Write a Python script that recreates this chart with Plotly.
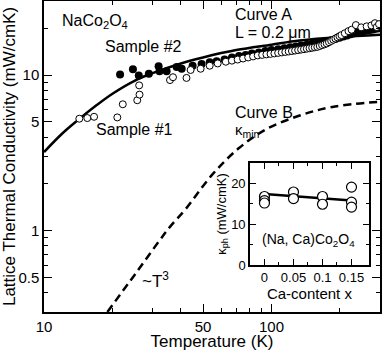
import plotly.graph_objects as go

# Sample #2 (filled circles)
s2_T = [21.6, 24.6, 26.1, 28.9, 31.9, 32.2, 34.6, 38.3, 40.3, 45, 49.3, 53.5, 57.4, 62.2,
        67, 72, 77, 82, 88, 94, 100, 107, 114, 121, 128, 135, 143, 151, 159, 167, 175,
        183, 191, 199, 207, 215, 223, 231, 239, 247, 255, 263, 271, 280, 289, 297]
s2_k = [10.1, 10.9, 9.95, 10.2, 11.4, 10.6, 10.6, 11.3, 11.0, 11.5, 11.8, 12.1, 12.3, 12.6,
        13.0, 13.3, 13.5, 13.8, 14.0, 14.3, 14.5, 14.7, 14.9, 15.1, 15.3, 15.5, 15.7, 15.9,
        16.1, 16.3, 16.5, 16.8, 17.1, 17.4, 17.7, 18.0, 18.3, 18.6, 18.8, 19.0, 19.2, 19.4,
        19.5, 19.7, 19.9, 20.0]

# Sample #1 (open circles)
s1_T = [14.3, 15.5, 16.6, 21, 22.2, 25.7, 26.3, 26.2, 35.8, 36.9, 42.3, 44.1, 48.8, 53.5,
        58, 63, 67, 71, 75, 79, 83, 87, 91, 95, 99, 103, 107, 111, 115, 119, 123, 127,
        131, 135, 139, 143, 147, 151, 155, 159, 163, 167, 171, 175, 179, 183, 187, 191,
        195, 199, 203, 210, 218, 225, 235, 248, 262, 275, 285, 290, 297]
s1_k = [5.25, 5.3, 5.4, 5.35, 6.5, 6.9, 7.5, 8.6, 9.3, 9.7, 9.6, 10.8, 11.0, 11.5,
        11.9, 12.2, 12.4, 12.6, 12.8, 13.0, 13.2, 13.4, 13.5, 13.6, 13.7, 13.8, 13.9, 14.0,
        14.1, 14.2, 14.3, 14.4, 14.5, 14.6, 14.7, 14.8, 14.9, 15.0, 15.1, 15.2, 15.4, 15.6,
        15.8, 16.0, 16.3, 16.6, 16.9, 17.2, 17.5, 17.8, 18.1, 18.6, 19.2, 19.6, 21.0, 20.3,
        20.6, 20.9, 21.6, 20.4, 21.3]

# Curve A (L = 0.2 um) and curve B (kappa_min)
cA_T = [10, 12, 14, 17, 20, 25, 30, 40, 50, 70, 100, 133, 200, 300]
cA_k = [3.2, 4.2, 5.1, 6.4, 7.6, 9.2, 10.3, 11.9, 13.0, 14.5, 15.7, 16.7, 17.6, 18.2]
cB_T = [19, 25.5, 32.3, 36, 42, 55, 72, 95, 133, 185, 300]
cB_k = [0.3, 0.54, 0.87, 1.07, 1.38, 2.3, 3.4, 4.5, 5.5, 6.25, 6.75]

# inset: kappa_ph vs Ca content
ca_x = [0, 0, 0, 0.05, 0.05, 0.1, 0.1, 0.15, 0.15, 0.15]
ca_k = [16.8, 15.8, 15.2, 17.9, 16.3, 16.8, 14.9, 19.1, 15.4, 14.2]
fit_x = [0, 0.15]
fit_k = [17.4, 15.8]

FONT = "Liberation Sans, Arial, sans-serif"

fig = go.Figure()
fig.add_trace(go.Scatter(x=cA_T, y=cA_k, mode="lines", line=dict(color="black", width=2.5, shape="spline")))
fig.add_trace(go.Scatter(x=cB_T, y=cB_k, mode="lines",
                         line=dict(color="black", width=2.5, dash="8px,5px", shape="spline")))
fig.add_trace(go.Scatter(x=s2_T, y=s2_k, mode="markers",
                         marker=dict(symbol="circle", size=8, color="black")))
fig.add_trace(go.Scatter(x=s1_T, y=s1_k, mode="markers",
                         marker=dict(symbol="circle", size=7, color="white",
                                     line=dict(color="black", width=1))))

# inset
fig.add_trace(go.Scatter(x=fit_x, y=fit_k, mode="lines", xaxis="x2", yaxis="y2",
                         line=dict(color="black", width=2.5)))
fig.add_trace(go.Scatter(x=ca_x, y=ca_k, mode="markers", xaxis="x2", yaxis="y2",
                         marker=dict(symbol="circle", size=10, color="white",
                                     line=dict(color="black", width=1.2))))

ax_common = dict(showline=True, linecolor="black", linewidth=1.5, mirror="allticks",
                 ticks="inside", tickcolor="black", tickwidth=1.2, showgrid=False,
                 zeroline=False, automargin=False)

fig.update_layout(
    width=382, height=351,
    margin=dict(l=44, r=2, t=1, b=39),
    paper_bgcolor="white", plot_bgcolor="white",
    showlegend=False,
    font=dict(family=FONT, size=15, color="black"),
    xaxis=dict(ax_common, type="log", range=[1, 2.477], ticklen=8,
               tickvals=[10, 50, 100], ticktext=["10", "50", "100"],
               minor=dict(ticks="inside", ticklen=4, tickcolor="black", tickwidth=1.2,
                          tickvals=[20, 30, 40, 60, 70, 80, 90, 200, 300]),
               title=dict(text="Temperature (K)", font=dict(size=17), standoff=4),
               tickfont=dict(size=15)),
    yaxis=dict(ax_common, type="log", range=[-0.523, 1.477], ticklen=8,
               tickvals=[0.5, 1, 5, 10], ticktext=["0.5", "1", "5", "10"],
               minor=dict(ticks="inside", ticklen=4, tickcolor="black", tickwidth=1.2,
                          tickvals=[0.3, 0.4, 0.6, 0.7, 0.8, 0.9, 2, 3, 4, 6, 7, 8, 9, 20, 30]),
               title=dict(text="Lattice Thermal Conductivity (mW/cmK)", font=dict(size=17),
                          standoff=2),
               tickfont=dict(size=15)),
    xaxis2=dict(ax_common, domain=[0.613, 0.967], anchor="y2", range=[-0.025, 0.18],
                ticklen=6, tickvals=[0, 0.05, 0.1, 0.15], ticktext=["0", "0.05", "0.1", "0.15"],
                minor=dict(ticks="inside", ticklen=3, tickcolor="black",
                           tickvals=[0.025, 0.075, 0.125]),
                tickfont=dict(size=13),
                title=dict(text="Ca-content x", font=dict(size=15), standoff=2)),
    yaxis2=dict(ax_common, domain=[0.151, 0.479], anchor="x2", range=[0, 25],
                ticklen=6, tickvals=[0, 10, 20], ticktext=["0", "10", "20"],
                minor=dict(ticks="inside", ticklen=3, tickcolor="black", tickvals=[5, 15]),
                tickfont=dict(size=13),
                title=dict(text="κ<sub>ph</sub> (mW/cmK)", font=dict(size=13), standoff=2)),
)

ann = [
    dict(x=60, y=21, text="NaCo<sub>2</sub>O<sub>4</sub>", size=16),
    dict(x=103, y=47, text="Sample #2", size=16),
    dict(x=94, y=129, text="Sample #1", size=16),
    dict(x=233, y=15, text="Curve A", size=16),
    dict(x=233, y=32, text="L = 0.2 μm", size=16),
    dict(x=233, y=113, text="Curve B", size=16),
    dict(x=233, y=130, text="κ<sub>min</sub>", size=15),
    dict(x=140, y=280, text="~T<sup>3</sup>", size=17),
    dict(x=260, y=240, text="(Na, Ca)Co<sub>2</sub>O<sub>4</sub>", size=14),
]
for a in ann:
    fig.add_annotation(x=(a["x"] - 44) / 336, y=(312 - a["y"]) / 311, xref="paper", yref="paper",
                       text=a["text"], showarrow=False, xanchor="left", yanchor="middle",
                       font=dict(family=FONT, size=a["size"], color="black"))

# page body has a default 8px margin; drop it so the figure fills the window
fig.write_html("out.html", config={"displayModeBar": False},
               post_script="document.body.style.margin='0';")
